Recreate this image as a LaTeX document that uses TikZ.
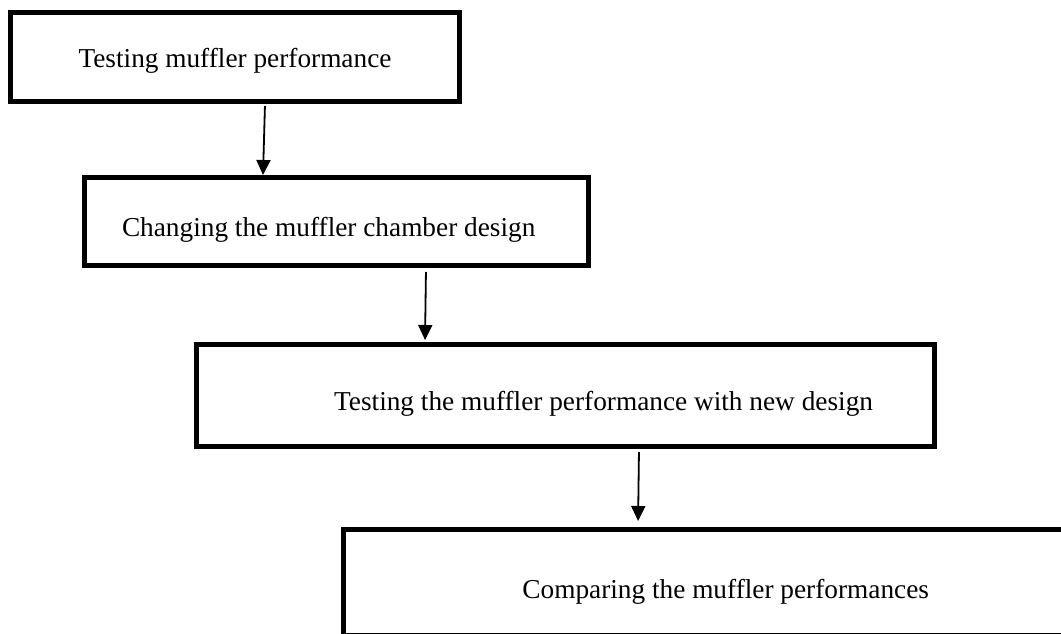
\documentclass[tikz,border=0pt]{standalone}
\usepackage{fontspec}
\setmainfont{Liberation Serif}
\usetikzlibrary{arrows.meta}

\begin{document}
\begin{tikzpicture}[
  x=1pt, y=-1pt,
  font=\fontsize{27.3}{33}\selectfont,
  box/.style={draw=black, line width=5.3pt, inner sep=0pt, text depth=0pt},
  arr/.style={-{Triangle[length=15pt, width=14pt]}, line width=1.8pt, draw=black}]
 \path[use as bounding box, clip] (0,0) rectangle (1061,634);
 % the four steps, top to bottom
 \node[box, minimum width=448.7pt, minimum height=88.7pt, text height=20pt] (tp) at (235,57)
      {Testing muffler performance};
 \node[box, minimum width=503.7pt, minimum height=87.7pt, text height=29pt,
       text width=429pt, align=flush left] (cd) at (336.5,221.5)
      {Changing the muffler chamber design};
 \node[box, minimum width=737.7pt, minimum height=101.7pt, text height=29pt,
       text width=615pt, align=flush right] (tn) at (565.5,395.5)
      {Testing the muffler performance with new design};
 \node[box, minimum width=726.7pt, minimum height=105.7pt, text height=31pt,
       text width=445pt, align=flush right] (cp) at (706.5,582.5)
      {Comparing the muffler performances};
 \draw[arr, shorten <=2pt] ([xshift=30pt]tp.south) -- ([xshift=-73.5pt]cd.north);
 \draw[arr, shorten <=4pt, shorten >=2pt] ([xshift=89.5pt]cd.south) -- ([xshift=-140.5pt]tn.north);
 \draw[arr, shorten <=3pt, shorten >=6pt] ([xshift=73.5pt]tn.south) -- ([xshift=-68.5pt]cp.north);
\end{tikzpicture}
\end{document}
